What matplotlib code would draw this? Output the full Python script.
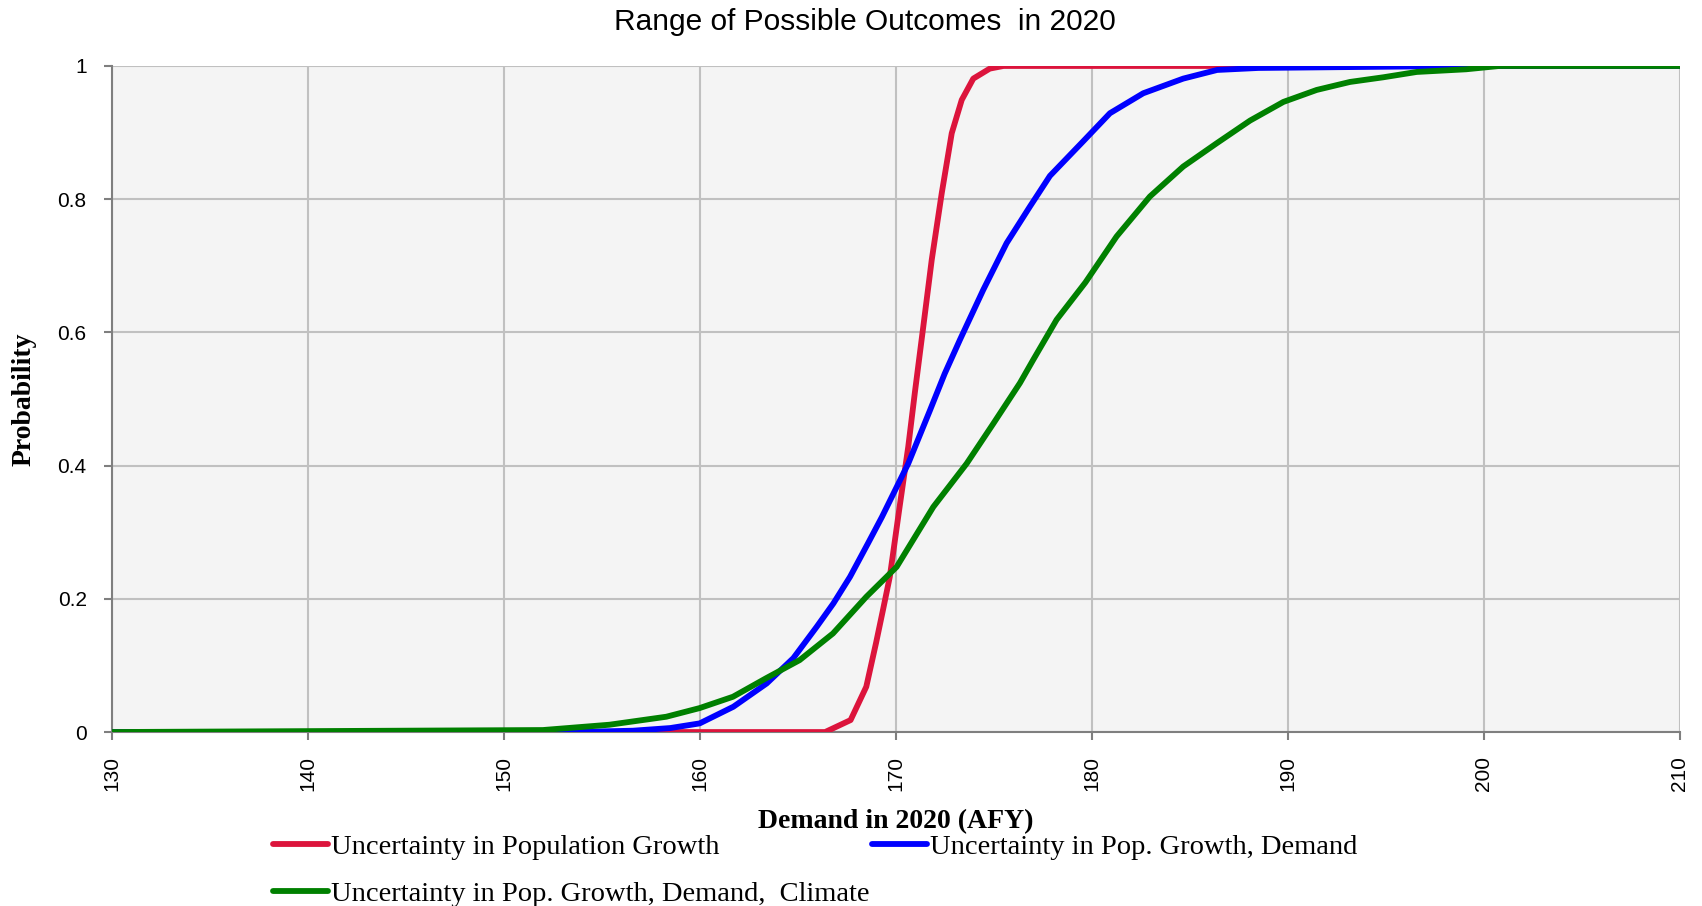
import matplotlib
matplotlib.use("Agg")
from matplotlib import pyplot as plt
import numpy as np

# demand (AFY) and cumulative probability
pop_x = [130, 166.4, 167.7, 168.5, 169.0, 169.35, 169.7, 170.2, 170.64, 170.98,
         171.41, 171.84, 172.35, 172.86, 173.37, 173.96, 174.8, 175.5, 210]
pop_p = [0, 0, 0.018, 0.068, 0.134, 0.183, 0.233, 0.338, 0.428, 0.51,
         0.609, 0.709, 0.809, 0.899, 0.949, 0.981, 0.996, 1.0, 1.0]

dem_x = [130, 153.5, 156.6, 158.5, 160.0, 161.72, 163.42, 164.78, 165.97, 166.82,
         167.67, 168.6, 169.3, 170.64, 171.75, 172.5, 173.28, 174.47, 175.66, 176.85,
         177.87, 179.57, 180.93, 182.63, 184.67, 186.4, 188.5, 192, 199, 210]
dem_p = [0, 0, 0.002, 0.006, 0.013, 0.038, 0.073, 0.111, 0.158, 0.193,
         0.233, 0.284, 0.323, 0.403, 0.483, 0.538, 0.589, 0.664, 0.734, 0.789,
         0.835, 0.887, 0.929, 0.959, 0.981, 0.994, 0.997, 0.998, 1.0, 1.0]

clim_x = [130, 152.0, 155.4, 158.3, 160.0, 161.7, 163.4, 165.1, 166.8, 168.5,
          170.05, 171.92, 173.62, 174.98, 176.34, 177.02, 178.21, 179.68, 181.27,
          182.97, 184.67, 186.38, 188.08, 189.78, 191.48, 193.18, 194.88, 196.58,
          199.1, 200.8, 210]
clim_p = [0, 0.003, 0.011, 0.023, 0.036, 0.053, 0.081, 0.108, 0.148, 0.203,
          0.248, 0.338, 0.403, 0.463, 0.524, 0.559, 0.619, 0.675, 0.744,
          0.804, 0.849, 0.884, 0.918, 0.946, 0.964, 0.976, 0.983, 0.991,
          0.995, 1.0, 1.0]

x_ticks = [130, 140, 150, 160, 170, 180, 190, 200, 210]
y_ticks = [0, 0.2, 0.4, 0.6, 0.8, 1]
y_labels = ["0", "0.2", "0.4", "0.6", "0.8", "1"]

labels = ["Uncertainty in Population Growth",
          "Uncertainty in Pop. Growth, Demand",
          "Uncertainty in Pop. Growth, Demand,  Climate"]

fig = plt.figure(figsize=(17.02, 9.06), dpi=100)
ax = fig.add_axes([0.0656, 0.192, 0.9213, 0.7352])
ax.set_facecolor("#f4f4f4")

lw = 4.2
l1, = ax.plot(pop_x, pop_p, color="#dc143c", lw=lw, solid_capstyle="round")
l2, = ax.plot(dem_x, dem_p, color="#0000ff", lw=lw, solid_capstyle="round")
l3, = ax.plot(clim_x, clim_p, color="#008000", lw=lw, solid_capstyle="round")

ax.set_xlim(130, 210)
ax.set_ylim(0, 1)
ax.set_xticks(x_ticks)
ax.set_yticks(y_ticks)
ax.set_yticklabels(y_labels)
ax.grid(True, color="#c0c0c0", lw=1.5)
ax.set_axisbelow(True)

for s in ["top", "right"]:
    ax.spines[s].set_visible(False)
for s in ["left", "bottom"]:
    ax.spines[s].set_color("#7f7f7f")
    ax.spines[s].set_linewidth(1.5)
    ax.spines[s].set_zorder(1.5)

ax.tick_params(axis="both", direction="out", length=6, width=1.5, color="#7f7f7f",
               labelsize=15)
ax.tick_params(axis="x", labelrotation=90, pad=11)
ax.tick_params(axis="y", pad=12)
for t in ax.get_xticklabels() + ax.get_yticklabels():
    t.set_fontfamily("Liberation Sans")

ax.set_xlabel("Demand in 2020 (AFY)", fontsize=20, fontweight="bold",
              family="Liberation Serif")
ax.set_ylabel("Probability", fontsize=20, fontweight="bold",
              family="Liberation Serif")
ax.xaxis.set_label_coords(0.5, -0.115)
ax.yaxis.set_label_coords(-0.048, 0.5)

fig.text(0.508, 0.976, "Range of Possible Outcomes  in 2020", ha="center", va="center",
         fontsize=21.5, family="Liberation Sans")

fig.legend([l1, l3, l2], [labels[0], labels[2], labels[1]], ncol=2,
           loc="upper left", bbox_to_anchor=(0.152, 0.095), frameon=False,
           prop={"family": "Liberation Serif", "size": 20.5},
           handlelength=1.93, handletextpad=0.1, columnspacing=0.1,
           labelspacing=0.75, borderpad=0)

fig.savefig("out.png", dpi=100)
